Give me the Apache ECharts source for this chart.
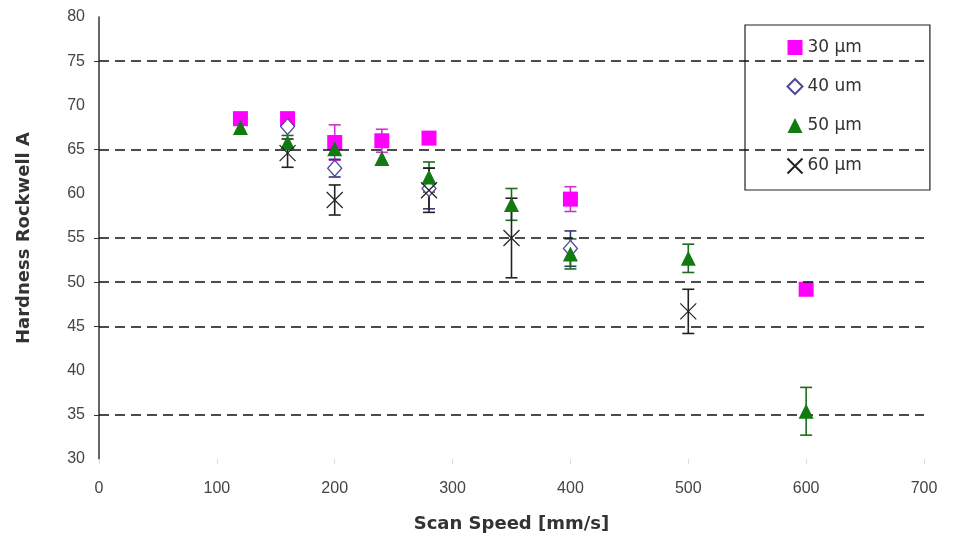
<!DOCTYPE html>
<html>
<head>
<meta charset="utf-8">
<script src="https://cdn.jsdelivr.net/npm/echarts@6/dist/echarts.min.js"></script>
<style>
    html, body { margin: 0; padding: 0; background: #fff; }
    #main { width: 953px; height: 542px; }
</style>
</head>
<body>
<div id="main"></div>
<script>
// 30 µm
const speed30 = [120, 160, 200, 240, 280, 400, 600];
const hard30 = [68.5, 68.5, 65.8, 66.0, 66.3, 59.4, 49.2];
const err30 = [0, 0, 2.0, 1.3, 0, 1.4, 0];

// 40 µm
const speed40 = [160, 200, 280, 400];
const hard40 = [67.6, 62.9, 60.6, 53.8];
const err40 = [0, 1.0, 2.3, 2.0];

// 50 µm
const speed50 = [120, 160, 200, 240, 280, 350, 400, 500, 600];
const hard50 = [67.5, 65.8, 65.1, 64.0, 61.9, 58.8, 53.2, 52.7, 35.4];
const err50 = [0, 0.8, 0, 0, 1.7, 1.8, 1.7, 1.6, 2.7];

// 60 µm
const speed60 = [160, 200, 280, 350, 500];
const hard60 = [64.6, 59.3, 60.4, 55.0, 46.7];
const err60 = [1.6, 1.7, 2.5, 4.5, 2.5];

const seriesNames = ['30 µm', '40 um', '50 µm', '60 µm'];
const dashedLevels = [35, 45, 50, 55, 65, 75];

const FONT = '"Liberation Sans", Arial, sans-serif';
const WIDE = '"DejaVu Sans", sans-serif';

function points(xs, ys) {
    return xs.map((x, i) => [x, ys[i]]);
}

function errData(xs, ys, es) {
    const out = [];
    xs.forEach((x, i) => {
        if (es[i] > 0) out.push([x, ys[i] - es[i], ys[i] + es[i]]);
    });
    return out;
}

// 误差线
function errorSeries(name, data, color) {
    return {
        name: name + ' err',
        type: 'custom',
        silent: true,
        z: 1,
        data: data,
        renderItem: function (params, api) {
            const x = api.value(0);
            const lo = api.coord([x, api.value(1)]);
            const hi = api.coord([x, api.value(2)]);
            const cap = 6;
            const style = { stroke: color, lineWidth: 1.6 };
            return {
                type: 'group',
                children: [
                    { type: 'line', shape: { x1: lo[0], y1: lo[1], x2: hi[0], y2: hi[1] }, style: style },
                    { type: 'line', shape: { x1: lo[0] - cap, y1: lo[1], x2: lo[0] + cap, y2: lo[1] }, style: style },
                    { type: 'line', shape: { x1: hi[0] - cap, y1: hi[1], x2: hi[0] + cap, y2: hi[1] }, style: style }
                ]
            };
        }
    };
}

var chart = echarts.init(document.getElementById('main'), null, { renderer: 'canvas' });

var option = {
    animation: false,
    textStyle: { fontFamily: FONT },
    grid: { left: 99, right: 29, top: 17, bottom: 83 },
    legend: {
        data: seriesNames,
        orient: 'vertical',
        left: 745,
        top: 25,
        backgroundColor: '#fff',
        borderColor: '#222',
        borderWidth: 1.2,
        padding: [14, 68, 14, 40],
        itemGap: 22,
        itemWidth: 15,
        itemHeight: 15,
        textStyle: { fontFamily: WIDE, fontSize: 17, color: '#333' }
    },
    xAxis: {
        type: 'value',
        min: 0,
        max: 700,
        interval: 100,
        axisLine: { show: false },
        axisTick: { show: true, length: 5, lineStyle: { color: '#ddd' } },
        splitLine: { show: false },
        axisLabel: { fontSize: 16, color: '#444', margin: 22, fontFamily: FONT },
        name: 'Scan Speed [mm/s]',
        nameLocation: 'middle',
        nameGap: 56,
        nameTextStyle: { fontSize: 18, fontWeight: 'bold', color: '#333', fontFamily: WIDE }
    },
    yAxis: {
        type: 'value',
        min: 30,
        max: 80,
        interval: 5,
        axisLine: { show: true, lineStyle: { color: '#333', width: 1.5 } },
        axisTick: { show: true, customValues: dashedLevels, length: 5, inside: false, lineStyle: { color: '#333' } },
        splitLine: { show: false },
        axisLabel: { fontSize: 16, color: '#444', margin: 14, fontFamily: FONT },
        name: 'Hardness Rockwell A',
        nameLocation: 'middle',
        nameGap: 66,
        nameTextStyle: { fontSize: 18, fontWeight: 'bold', color: '#333', fontFamily: WIDE }
    },
    series: [
        errorSeries(seriesNames[0], errData(speed30, hard30, err30), '#cc33cc'),
        errorSeries(seriesNames[1], errData(speed40, hard40, err40), '#333377'),
        errorSeries(seriesNames[2], errData(speed50, hard50, err50), '#1a6e1a'),
        errorSeries(seriesNames[3], errData(speed60, hard60, err60), '#222'),
        {
            name: seriesNames[0],
            type: 'scatter',
            z: 3,
            symbol: 'rect',
            symbolSize: 15,
            itemStyle: { color: '#ff00ff', opacity: 1 },
            data: points(speed30, hard30),
            markLine: {
                silent: true,
                symbol: 'none',
                label: { show: false },
                lineStyle: { color: '#111', type: [10, 6], width: 1.5 },
                data: dashedLevels.map(v => ({ yAxis: v }))
            }
        },
        {
            name: seriesNames[1],
            type: 'scatter',
            z: 4,
            symbol: 'diamond',
            symbolSize: [14, 16],
            itemStyle: { color: '#fff', borderColor: '#4a4a99', borderWidth: 1.3, opacity: 1 },
            data: points(speed40, hard40)
        },
        {
            name: seriesNames[2],
            type: 'scatter',
            z: 5,
            symbol: 'triangle',
            symbolSize: [15, 15],
            itemStyle: { color: '#117a11', opacity: 1 },
            data: points(speed50, hard50)
        },
        {
            name: seriesNames[3],
            type: 'scatter',
            z: 6,
            symbol: 'path://M0,0L10,10M10,0L0,10',
            symbolSize: 16,
            itemStyle: { color: 'none', borderColor: '#222', borderWidth: 1.2, opacity: 1 },
            data: points(speed60, hard60)
        }
    ]
};

chart.setOption(option);
window.addEventListener('resize', chart.resize);
</script>
</body>
</html>
